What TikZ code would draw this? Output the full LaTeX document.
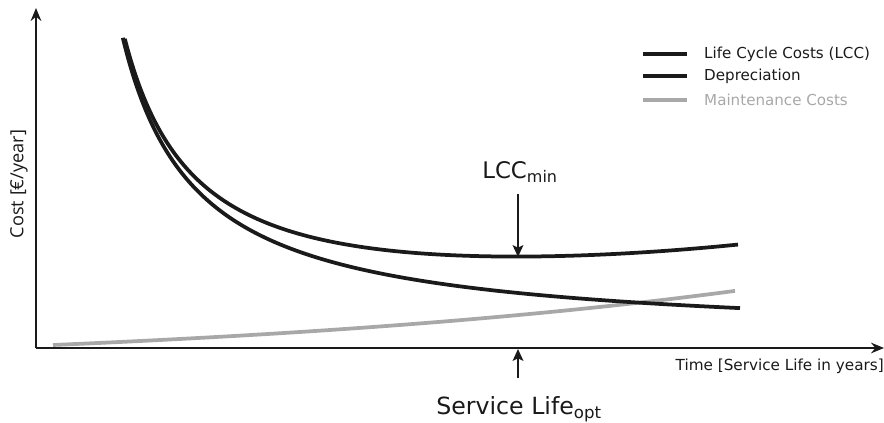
\documentclass[tikz,border=0pt]{standalone}
\usepackage{fontspec}
\setmainfont{DejaVu Sans}
\newfontfamily\costfont{Open Sans}
\usetikzlibrary{positioning, calc, arrows.meta}
\definecolor{curveblack}{HTML}{1A1A1A}
\definecolor{maintgray}{HTML}{A8A8A8}

\tikzset{
  axisline/.style={line width=2.4pt, curveblack, -{Stealth[length=11pt, width=9pt]}},
  costcurve/.style={line width=3.2pt, curveblack},
  maintcurve/.style={line width=3.2pt, maintgray},
  pointer/.style={line width=2pt, curveblack, -{Stealth[length=10pt, width=9pt, inset=2pt]}},
  legendtext/.style={anchor=west, inner sep=0pt, font=\fontsize{12.9}{15}\selectfont},
}

\begin{document}
\begin{tikzpicture}[x=0.03cm, y=-0.03cm] % 1 unit = 1 px of the reference
\useasboundingbox (0,0) rectangle (884,423);

% axes
\coordinate (origin) at (36,348);
\coordinate (ytop) at (36,8);
\coordinate (xend) at (884,348);
\draw[axisline] (origin) -- (ytop);
\draw[axisline] (origin) -- (xend);
\node[anchor=center, rotate=90, font=\costfont\fontsize{15.5}{17}\selectfont, color=curveblack] (costlbl) at (19,184) {Cost [€/year]};
\node[anchor=north east, inner sep=0pt, font=\fontsize{13}{15}\selectfont, color=curveblack] (timelbl) at (884,359) {Time [Service Life in years]};

% curves: maintenance, depreciation, LCC = sum of both
\draw[maintcurve] plot[domain=53:735, samples=60, smooth] (\x, {370.55 - 23.4*exp(\x/600)});
\draw[costcurve] plot[domain=122.8:740, samples=160, smooth] (\x, {340 - 2200/(\x/10-5)});
\draw[costcurve] plot[domain=124.8:738, samples=160, smooth] (\x, {364.6 - 2200/(\x/10-5) - 25.74*exp(\x/600)});

% minimum and optimum
\coordinate (lccmin) at (518,257);
\coordinate (lcctail) at (518,194);
\coordinate (lifeopt) at (518,349);
\coordinate (lifetail) at (518,378);
\node[anchor=center, font=\fontsize{19.5}{22}\selectfont, color=curveblack] (lcclbl) at (520,172) {LCC\textsubscript{min}};
\draw[pointer] (lcctail) -- (lccmin);
\node[anchor=center, font=\fontsize{20.2}{22}\selectfont, color=curveblack] (optlbl) at (519,409) {Service Life\textsubscript{opt}};
\draw[pointer] (lifetail) -- (lifeopt);

% legend
\draw[costcurve] (643,54) -- (687,54);
\node[legendtext, color=curveblack] (lcclgd) at (704,54) {Life Cycle Costs (LCC)};
\draw[costcurve] (643,76) -- (687,76);
\node[legendtext, color=curveblack] (deplgd) at (704,76) {Depreciation};
\draw[maintcurve] (643,100) -- (687,100);
\node[legendtext, color=maintgray] (mntlgd) at (704,100) {Maintenance Costs};

\end{tikzpicture}
\end{document}
